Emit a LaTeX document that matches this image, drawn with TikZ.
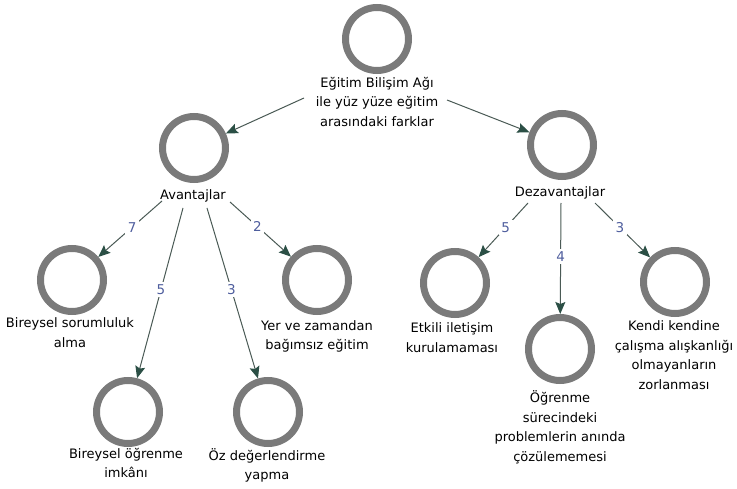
\documentclass[tikz,border=0pt]{standalone}
\usepackage{fontspec}
\setmainfont{DejaVu Sans}
\usetikzlibrary{arrows.meta}
\definecolor{ringgray}{HTML}{7A7A7A}
\definecolor{edgecol}{HTML}{4A5A55}
\definecolor{headcol}{HTML}{2B4F45}
\definecolor{numcol}{HTML}{4F5E9E}
\begin{document}
\begin{tikzpicture}[x=1pt,y=-1pt,
  ring/.style={circle, draw=ringgray, line width=7pt, minimum size=63pt, inner sep=0pt},
  lbl/.style={anchor=north, inner sep=0pt, align=center, text=black,
    font=\fontsize{13}{19.5}\selectfont, execute at begin node={\rule{0pt}{12.5pt}}},
  conn/.style={draw=edgecol, line width=1pt, -{Stealth[length=12pt,width=10pt,inset=2pt,color=headcol]}},
  num/.style={fill=white, inner sep=2.5pt, text=numcol, font=\fontsize{13.5}{15}\selectfont}
]
\useasboundingbox (0,0) rectangle (737,489);
% circles
\node[ring] (c0) at (377,39) {};
\node[ring] (c1) at (194,148) {};
\node[ring] (c2) at (562,145) {};
\node[ring] (c3) at (72,280) {};
\node[ring] (c4) at (317,280) {};
\node[ring] (c5) at (128,412) {};
\node[ring] (c6) at (268,412) {};
\node[ring] (c7) at (455,283) {};
\node[ring] (c8) at (560,349) {};
\node[ring] (c9) at (675,282) {};
% texts
\node[lbl] (t0) at (377,77) {Eğitim Bilişim Ağı\\ile yüz yüze eğitim\\arasındaki farklar};
\node[lbl] (t1) at (193,186.5) {Avantajlar};
\node[lbl] (t2) at (560,184) {Dezavantajlar};
\node[lbl] (t3) at (70,317.5) {Bireysel sorumluluk\\alma};
\node[lbl] (t4) at (317,320) {Yer ve zamandan\\bağımsız eğitim};
\node[lbl] (t5) at (126,448) {Bireysel öğrenme\\imkânı};
\node[lbl] (t6) at (267,448) {Öz değerlendirme\\yapma};
\node[lbl] (t7) at (452,322.5) {Etkili iletişim\\kurulamaması};
\node[lbl] (t8) at (560,390.5) {Öğrenme\\sürecindeki\\problemlerin anında\\çözülememesi};
\node[lbl] (t9) at (674,320.5) {Kendi kendine\\çalışma alışkanlığı\\olmayanların\\zorlanması};
% connector start points
\coordinate (sL) at (304,98);
\coordinate (sR) at (447,100);
\coordinate (s7) at (162,201);
\coordinate (s5) at (183,208);
\coordinate (s3) at (207,208);
\coordinate (s2) at (230,202);
\coordinate (d5) at (528,203);
\coordinate (d4) at (561,203);
\coordinate (d3) at (595,203);
% connectors
\draw[conn] (sL) -- (c1);
\draw[conn] (sR) -- (c2);
\draw[conn] (s7) -- node[num, pos=0.47] {7} (c3);
\draw[conn] (s5) -- node[num, pos=0.48] {5} (c5);
\draw[conn] (s3) -- node[num, pos=0.48] {3} (c6);
\draw[conn] (s2) -- node[num, pos=0.45] {2} (c4);
\draw[conn] (d5) -- node[num, pos=0.45] {5} (c7);
\draw[conn] (d4) -- node[num, pos=0.48] {4} (c8);
\draw[conn] (d3) -- node[num, pos=0.45] {3} (c9);
\end{tikzpicture}
\end{document}
